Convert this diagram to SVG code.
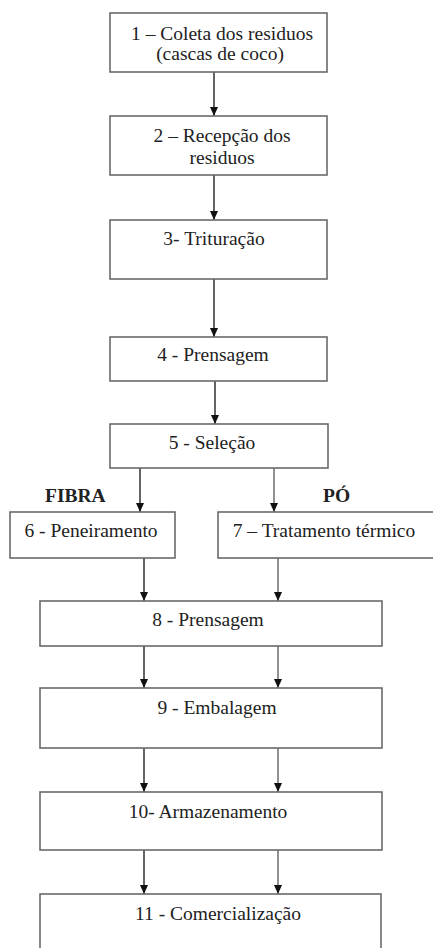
<svg xmlns="http://www.w3.org/2000/svg" width="433" height="948" viewBox="0 0 433 948">
  <style>
    .box { fill: #ffffff; stroke: #6a6a6a; stroke-width: 1.6; }
    .lbl { font-family: "Liberation Serif", "DejaVu Serif", serif; font-size: 19.5px; fill: #222; text-anchor: middle; }
    .tag { font-family: "Liberation Serif", "DejaVu Serif", serif; font-size: 19.5px; font-weight: bold; fill: #222; }
    .arr { stroke: #111; stroke-width: 1.3; fill: none; marker-end: url(#head); }
    .arr2 { stroke: #555; stroke-width: 1.3; fill: none; marker-end: url(#head); }
  </style>
  <defs>
    <marker id="head" markerUnits="userSpaceOnUse" markerWidth="9" markerHeight="8" refX="9" refY="4" orient="auto">
      <path d="M0,0 L9,4 L0,8 z" fill="#111"/>
    </marker>
  </defs>
  <rect width="433" height="948" fill="#ffffff"/>

  <g id="connectors">
    <line class="arr" x1="214" y1="72" x2="214" y2="116"/>
    <line class="arr" x1="214" y1="175" x2="214" y2="220"/>
    <line class="arr" x1="214" y1="279" x2="214" y2="337"/>
    <line class="arr" x1="215" y1="381" x2="215" y2="424"/>
    <line class="arr" x1="140" y1="468" x2="140" y2="512"/>
    <line class="arr2" x1="274" y1="468" x2="274" y2="512"/>
    <line class="arr" x1="144" y1="558" x2="144" y2="601"/>
    <line class="arr2" x1="278" y1="558" x2="278" y2="601"/>
    <line class="arr" x1="144" y1="646" x2="144" y2="688"/>
    <line class="arr2" x1="278" y1="646" x2="278" y2="688"/>
    <line class="arr" x1="144" y1="748" x2="144" y2="792"/>
    <line class="arr2" x1="278" y1="748" x2="278" y2="792"/>
    <line class="arr" x1="144" y1="850" x2="144" y2="894"/>
    <line class="arr2" x1="278" y1="850" x2="278" y2="894"/>
  </g>

  <g id="n1">
    <rect class="box" x="110" y="13" width="217" height="59"/>
    <text class="lbl" x="222" y="40">1 – Coleta dos residuos</text>
    <text class="lbl" x="220" y="60">(cascas de coco)</text>
  </g>
  <g id="n2">
    <rect class="box" x="110" y="116" width="217" height="59"/>
    <text class="lbl" x="222" y="142">2 – Recepção dos</text>
    <text class="lbl" x="222" y="164">residuos</text>
  </g>
  <g id="n3">
    <rect class="box" x="110" y="220" width="217" height="59"/>
    <text class="lbl" x="214" y="245">3- Trituração</text>
  </g>
  <g id="n4">
    <rect class="box" x="110" y="337" width="217" height="44"/>
    <text class="lbl" x="213" y="361">4 - Prensagem</text>
  </g>
  <g id="n5">
    <rect class="box" x="110" y="424" width="218" height="44"/>
    <text class="lbl" x="212" y="449">5 - Seleção</text>
  </g>
  <g id="labels">
    <text class="tag" x="45" y="502">FIBRA</text>
    <text class="tag" x="323" y="502">PÓ</text>
  </g>
  <g id="n6">
    <rect class="box" x="10" y="512" width="165" height="46"/>
    <text class="lbl" x="91" y="537">6 - Peneiramento</text>
  </g>
  <g id="n7">
    <rect class="box" x="218" y="512" width="225" height="46"/>
    <text class="lbl" x="324" y="537">7 – Tratamento térmico</text>
  </g>
  <g id="n8">
    <rect class="box" x="40" y="601" width="342" height="45"/>
    <text class="lbl" x="208" y="626">8 - Prensagem</text>
  </g>
  <g id="n9">
    <rect class="box" x="40" y="688" width="342" height="60"/>
    <text class="lbl" x="217" y="714">9 - Embalagem</text>
  </g>
  <g id="n10">
    <rect class="box" x="40" y="792" width="342" height="58"/>
    <text class="lbl" x="208" y="818">10- Armazenamento</text>
  </g>
  <g id="n11">
    <rect class="box" x="40" y="894" width="341" height="70"/>
    <text class="lbl" x="218" y="920">11 - Comercialização</text>
  </g>
</svg>
